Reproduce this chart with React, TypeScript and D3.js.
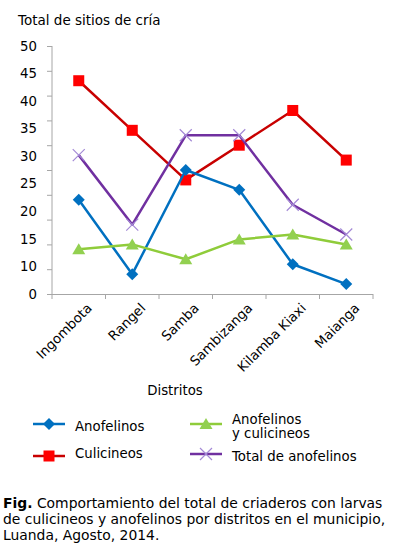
import { useEffect, useRef } from 'react';
import * as d3 from 'd3';

const districts = ['Ingombota', 'Rangel', 'Samba', 'Sambizanga', 'Kilamba Kiaxi', 'Maianga'];
const anofelinos = [19, 4, 25, 21, 6, 2];
const anofYCulicineos = [9, 10, 7, 11, 12, 10];
const culicineos = [43, 33, 23, 30, 37, 27];
const totalAnofelinos = [28, 14, 32, 32, 18, 12];
// labels as printed on the source axis (the "5" is missing there)
const yTickLabels = ['50', '45', '40', '35', '30', '25', '20', '15', '10', '0'];

const font = 'DejaVu Sans, Verdana, sans-serif';

export default function App() {
  const svgRef = useRef<SVGSVGElement | null>(null);

  useEffect(() => {
    if (!svgRef.current) return;
    const width = 396;
    const height = 550;
    const svg = d3.select(svgRef.current);
    svg.selectAll('*').remove();

    const left = 52;
    const right = 373;
    const top = 46;
    const bottom = 294;

    const x = d3.scaleBand<string>().domain(districts).range([left, right]);
    const y = d3.scaleLinear().domain([0, 50]).range([bottom, top]);
    const cx = (i: number) => x(districts[i])! + x.bandwidth() / 2;

    svg.append('rect').attr('width', width).attr('height', height).attr('fill', '#fff');

    // y axis
    const axisColor = '#a6a6a6';
    svg.append('line').attr('x1', left).attr('x2', left).attr('y1', top).attr('y2', bottom)
      .attr('stroke', axisColor);
    svg.append('g').selectAll('line').data(d3.range(0, 51, 5)).enter().append('line')
      .attr('x1', left - 5).attr('x2', left).attr('y1', (d) => y(d) + 0.5).attr('y2', (d) => y(d) + 0.5)
      .attr('stroke', axisColor);
    const labelPos = d3.scalePoint<string>().domain(yTickLabels).range([y(50), y(0)]);
    svg.append('g').selectAll('text').data(yTickLabels).enter().append('text')
      .attr('x', 37).attr('y', (d) => labelPos(d)!).attr('dy', '0.35em')
      .attr('text-anchor', 'end').attr('font-family', font).attr('font-size', 13.3)
      .attr('fill', '#000').text((d) => d);

    // x axis
    svg.append('line').attr('x1', left).attr('x2', right).attr('y1', bottom + 0.5).attr('y2', bottom + 0.5)
      .attr('stroke', axisColor);
    const xTicks = districts.map((d) => x(d)!).concat([right]);
    svg.append('g').selectAll('line').data(xTicks).enter().append('line')
      .attr('x1', (d) => d).attr('x2', (d) => d).attr('y1', bottom).attr('y2', bottom + 5)
      .attr('stroke', axisColor);
    svg.append('g').selectAll('text').data(districts).enter().append('text')
      .attr('transform', (d, i) => `translate(${cx(i) + 14},${bottom + 15}) rotate(-45)`)
      .attr('text-anchor', 'end').attr('font-family', font).attr('font-size', 13.3)
      .attr('fill', '#000').text((d) => d);

    svg.append('text').attr('x', 18).attr('y', 25).attr('font-family', font).attr('font-size', 13.5)
      .text('Total de sitios de cría');
    svg.append('text').attr('x', 175).attr('y', 395).attr('text-anchor', 'middle')
      .attr('font-family', font).attr('font-size', 13.3).text('Distritos');

    const series = [
      { name: 'Culicineos', values: culicineos, line: '#c80000', fill: '#ff0000', marker: 'square' },
      { name: 'Total de anofelinos', values: totalAnofelinos, line: '#7030a0', fill: '#a48ad6', marker: 'x' },
      { name: 'Anofelinos', values: anofelinos, line: '#0070c0', fill: '#0070c0', marker: 'diamond' },
      { name: 'Anofelinos y culicineos', values: anofYCulicineos, line: '#8fcc3a', fill: '#92d050', marker: 'triangle' },
    ];

    const line = d3.line<number>().x((_, i) => cx(i)).y((d) => y(d));

    const drawMarker = (g: any, kind: string, color: string, px: number, py: number) => {
      if (kind === 'square') {
        g.append('rect').attr('x', px - 5.5).attr('y', py - 5.5).attr('width', 11).attr('height', 11).attr('fill', color);
      } else if (kind === 'diamond') {
        g.append('path').attr('d', `M${px},${py - 6}L${px + 6},${py}L${px},${py + 6}L${px - 6},${py}Z`)
          .attr('fill', color);
      } else if (kind === 'triangle') {
        g.append('path').attr('d', `M${px},${py - 6}L${px + 6.5},${py + 5}L${px - 6.5},${py + 5}Z`).attr('fill', color);
      } else {
        g.append('path').attr('d', `M${px - 6},${py - 6}L${px + 6},${py + 6}M${px - 6},${py + 6}L${px + 6},${py - 6}`)
          .attr('stroke', color).attr('stroke-width', 1.2);
      }
    };

    series.forEach((s) => {
      const g = svg.append('g');
      g.append('path').attr('d', line(s.values)!).attr('fill', 'none')
        .attr('stroke', s.line).attr('stroke-width', 2.5).attr('stroke-linejoin', 'round');
      s.values.forEach((v, i) => drawMarker(g, s.marker, s.fill, cx(i), y(v)));
    });

    // legend
    const legend = svg.append('g');
    const items = [
      { s: series[2], lx: 33, ly: 424, lines: ['Anofelinos'], ty: 431 },
      { s: series[3], lx: 190, ly: 424, lines: ['Anofelinos', 'y culicineos'], ty: 424 },
      { s: series[0], lx: 33, ly: 456, lines: ['Culicineos'], ty: 458 },
      { s: series[1], lx: 190, ly: 454, lines: ['Total de anofelinos'], ty: 461 },
    ];
    items.forEach((it) => {
      legend.append('line').attr('x1', it.lx).attr('x2', it.lx + 32).attr('y1', it.ly).attr('y2', it.ly)
        .attr('stroke', it.s.line).attr('stroke-width', 2.5);
      drawMarker(legend, it.s.marker, it.s.fill, it.lx + 16, it.ly);
      const t = legend.append('text').attr('x', it.lx + 42).attr('y', it.ty)
        .attr('font-family', font).attr('font-size', 13.3);
      it.lines.forEach((ln, j) => t.append('tspan').attr('x', it.lx + 42).attr('dy', j === 0 ? 0 : 14).text(ln));
    });

    // caption
    const cap = svg.append('text').attr('font-family', font).attr('font-size', 13.9);
    cap.append('tspan').attr('x', 3).attr('y', 508).attr('font-weight', 'bold').text('Fig.');
    cap.append('tspan').text(' Comportamiento del total de criaderos con larvas');
    cap.append('tspan').attr('x', 3).attr('y', 524).text('de culicineos y anofelinos por distritos en el municipio,');
    cap.append('tspan').attr('x', 3).attr('y', 540).text('Luanda, Agosto, 2014.');
  }, []);

  return (
    <svg
      ref={svgRef}
      width={396}
      height={550}
      style={{ position: 'absolute', left: 0, top: 0, display: 'block' }}
    />
  );
}
